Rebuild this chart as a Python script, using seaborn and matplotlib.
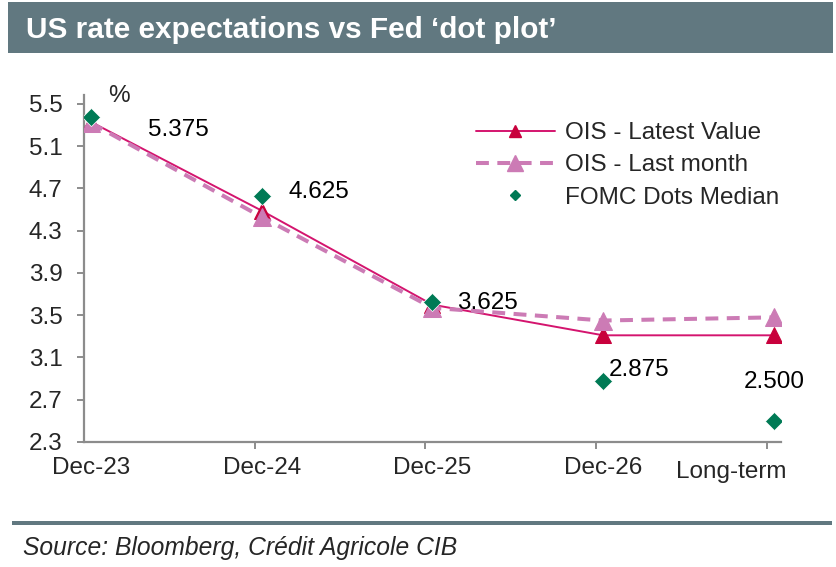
import numpy as np
import pandas as pd
import matplotlib
matplotlib.use("Agg")
import matplotlib.pyplot as plt
from matplotlib.lines import Line2D
from matplotlib.patches import Rectangle
from matplotlib.ticker import FixedLocator
from matplotlib.transforms import ScaledTranslation
import seaborn as sns

# ---- data ----
categories = ["Dec-23", "Dec-24", "Dec-25", "Dec-26", "Long-term"]
ois_latest = [5.33, 4.49, 3.60, 3.31, 3.31]
ois_last_month = [5.32, 4.43, 3.57, 3.45, 3.48]
fomc_median = [5.375, 4.625, 3.625, 2.875, 2.500]
yticks = [2.3, 2.7, 3.1, 3.5, 3.9, 4.3, 4.7, 5.1, 5.5]
series_names = ["OIS - Latest Value", "OIS - Last month", "FOMC Dots Median"]
title = "US rate expectations vs Fed \u2018dot plot\u2019"
source = "Source: Bloomberg, Cr\u00e9dit Agricole CIB"

# label offsets (pixels) for the median value labels
label_offsets = [(57, -13), (27, 4), (25, -1), (6, 11), (0, 39)]
label_ha = ["left", "left", "left", "left", "center"]

sns.set_style("white")
plt.rcParams["font.family"] = ["Liberation Sans", "DejaVu Sans"]
plt.rcParams["font.size"] = 17.5

W, H = 837, 567
fig = plt.figure(figsize=(W / 100, H / 100), dpi=100)
fig.patch.set_facecolor("white")

def fx(px):
    return px / W

def fy(py):
    return 1 - py / H

ax = fig.add_axes([fx(84), fy(442), (780.7 - 84) / W, (442 - 95) / H])

pos = np.arange(len(categories))
df = pd.DataFrame({"pos": pos, "latest": ois_latest, "last": ois_last_month,
                   "fomc": fomc_median})

c_latest_line = "#D4146E"
c_latest_mk = "#C8003C"
c_last = "#CC7BB5"
c_green = "#007A55"
c_header = "#617880"
c_axis = "#8C8C8C"
dash = (0, (3.2, 2.1))

sns.lineplot(data=df, x="pos", y="latest", ax=ax, color=c_latest_line, lw=1.4,
             marker="^", markersize=12, markerfacecolor=c_latest_mk,
             markeredgecolor=c_latest_mk, zorder=3)
sns.lineplot(data=df, x="pos", y="last", ax=ax, color=c_last, lw=2.9,
             linestyle=dash, marker="^", markersize=13,
             markerfacecolor=c_last, markeredgecolor=c_last, zorder=4)
sns.scatterplot(data=df, x="pos", y="fomc", ax=ax, marker="D", s=85,
                color=c_green, edgecolor="white", linewidth=0.5, zorder=5)

for i, v in enumerate(fomc_median):
    ax.annotate(f"{v:.3f}", xy=(pos[i], v), xytext=label_offsets[i],
                textcoords="offset pixels", ha=label_ha[i], va="center",
                fontsize=17.5, color="black", zorder=6)

ax.set_xlim(-0.041, 4.04)
ax.set_ylim(2.3, 5.585)
ax.set_yticks(yticks)
ax.set_yticklabels([f"{t:.1f}" for t in yticks])
ax.set_xticks(pos)
ax.set_xticklabels(categories)
ax.xaxis.set_minor_locator(FixedLocator(pos - 0.042))
ax.set_xlabel("")
ax.set_ylabel("")

for s in ["top", "right"]:
    ax.spines[s].set_visible(False)
for s in ["left", "bottom"]:
    ax.spines[s].set_color(c_axis)
    ax.spines[s].set_linewidth(1.6)

ax.tick_params(axis="y", which="major", direction="out", length=5, width=1.4,
               color=c_axis, pad=10.5, labelsize=17.5, left=True)
ax.tick_params(axis="x", which="major", length=0, pad=11, labelsize=17.5,
               bottom=True)
ax.tick_params(axis="x", which="minor", direction="out", length=5, width=1.4,
               color=c_axis, bottom=True)

# shift the last category label like the original
lt = ax.xaxis.get_major_ticks()[-1].label1
lt.set_transform(lt.get_transform() +
                 ScaledTranslation(-43 / 100, -4 / 100, fig.dpi_scale_trans))

handles = [
    Line2D([], [], color=c_latest_line, lw=1.4, marker="^", markersize=9,
           markerfacecolor=c_latest_mk, markeredgecolor=c_latest_mk),
    Line2D([], [], color=c_last, lw=2.9, linestyle=dash, marker="^",
           markersize=12, markerfacecolor=c_last, markeredgecolor=c_last),
    Line2D([], [], linestyle="none", marker="D", markersize=5, color=c_green),
]
leg = ax.legend(handles, series_names, loc="upper left",
                bbox_to_anchor=(fx(476), fy(122)), bbox_transform=fig.transFigure,
                frameon=False, borderpad=0, borderaxespad=0, handlelength=3.25,
                handletextpad=0.4, labelspacing=0.43, fontsize=17.5)

fig.text(fx(119), fy(96.5), "%", ha="center", va="center", fontsize=17.5)

# header bar and title
fig.patches.append(Rectangle((fx(8), fy(53)), (833 - 8) / W, (53 - 2) / H,
                             transform=fig.transFigure, facecolor=c_header,
                             edgecolor="none", zorder=0))
fig.text(fx(26), fy(38), title, color="white", fontweight="bold", fontsize=21.4,
         ha="left", va="baseline")

# separator rule and source
fig.patches.append(Rectangle((fx(12), fy(524.5)), (832 - 12) / W, 4 / H,
                             transform=fig.transFigure, facecolor=c_header,
                             edgecolor="none", zorder=0))
fig.text(fx(23), fy(555), source, style="italic", fontsize=17.7, ha="left",
         va="baseline")

fig.savefig("out.png", dpi=100)
